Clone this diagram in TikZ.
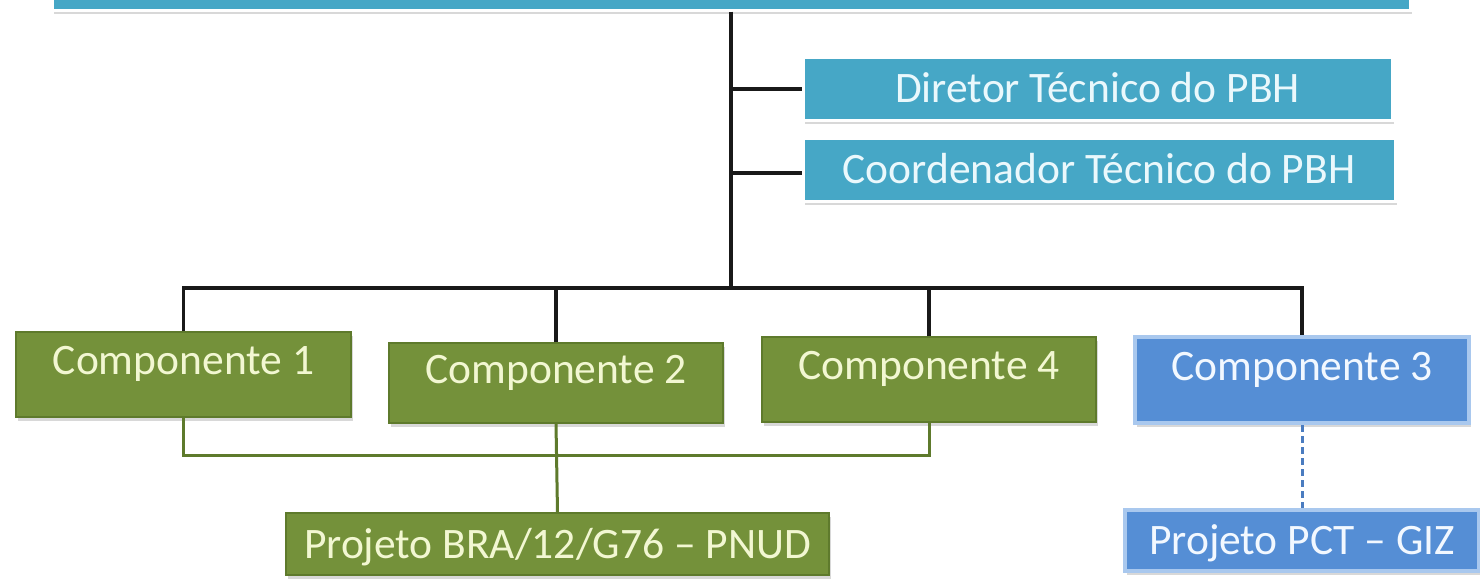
\documentclass[tikz,border=0pt]{standalone}
\usepackage{fontspec}
\setmainfont{Carlito}
\usetikzlibrary{shadows}
\definecolor{cyanbox}{HTML}{46A7C6}
\definecolor{greenbox}{HTML}{74913A}
\definecolor{greenedge}{HTML}{5E7A2C}
\definecolor{bluebox}{HTML}{558ED5}
\definecolor{blueedge}{HTML}{A9C8EE}
\definecolor{cyantext}{HTML}{EAF8FC}
\definecolor{greentext}{HTML}{F2F7D2}
\definecolor{bluetext}{HTML}{F2F8FF}
\definecolor{dashblue}{HTML}{4A7CC0}
\tikzset{
  boxbase/.style={rectangle, inner sep=0pt, font=\fontsize{43.5}{50}\selectfont,
    drop shadow={shadow xshift=1.5pt, shadow yshift=-4pt, opacity=0.25, fill=black!60}},
  capsmid/.style={text height=28pt, text depth=0pt},
  basemid/.style={text height=28pt, text depth=28pt},
  cyanstyle/.style={boxbase, capsmid, fill=cyanbox, draw=white, line width=3pt, text=cyantext},
  greenstyle/.style={boxbase, fill=greenbox, draw=greenedge, line width=1.5pt, text=greentext},
  bluestyle/.style={boxbase, fill=bluebox, draw=blueedge, line width=4pt, text=bluetext},
  blackline/.style={draw=black!90, line width=3.6pt},
  greenline/.style={draw=greenedge, line width=3pt},
  dashline/.style={draw=dashblue, line width=3pt, dash pattern=on 7pt off 4pt},
}
\begin{document}
\begin{tikzpicture}[x=1pt,y=-1pt]
\useasboundingbox (0,0) rectangle (1480,584);
\clip (0,0) rectangle (1480,584);
\fill[white] (0,0) rectangle (1480,584);

% top box (mostly cut off)
\node[cyanstyle, minimum width=1358pt, minimum height=70pt] (top) at (731,-25) {};

% right-hand boxes
\node[cyanstyle, minimum width=589pt, minimum height=63pt] (dir) at (1097.5,88.5) {Diretor Técnico do PBH};
\node[cyanstyle, minimum width=592pt, minimum height=63pt] (coord) at (1099,169.5) {Coordenador Técnico do PBH};

% components
\node[greenstyle, basemid, minimum width=335pt, minimum height=85pt] (c1) at (183.5,374.5) {Componente 1};
\node[greenstyle, basemid, minimum width=334pt, minimum height=80pt] (c2) at (556,383) {Componente 2};
\node[greenstyle, basemid, minimum width=334pt, minimum height=85pt] (c4) at (929,379.5) {Componente 4};
\node[bluestyle, basemid, minimum width=334pt, minimum height=86pt] (c3) at (1302,380) {Componente 3};

% projects
\node[greenstyle, capsmid, minimum width=543pt, minimum height=62pt] (pnud) at (557.5,544) {Projeto BRA/12/G76 – PNUD};
\node[bluestyle, capsmid, minimum width=354pt, minimum height=61pt] (giz) at (1302,540.5) {Projeto PCT – GIZ};

% black connectors
\coordinate (j) at (731,288);
\coordinate (jdir) at (731,89);
\coordinate (jcoord) at (731,173);
\draw[blackline] (top.south) -- (j);
\draw[blackline] (jdir) -- (jdir -| dir.west);
\draw[blackline] (jcoord) -- (jcoord -| coord.west);
\draw[blackline] (c1.north) |- (j) -| (c3.north);
\draw[blackline] (c2.north) -- (c2.north |- j);
\draw[blackline] (c4.north) -- (c4.north |- j);

% green connectors
\coordinate (g) at (557,455);
\draw[greenline] (c1.south) |- (g) -| (c4.south);
\draw[greenline] (c2.south) -- (pnud.north);

% dashed blue connector
\draw[dashline] (c3.south) -- (giz.north);
\end{tikzpicture}
\end{document}
